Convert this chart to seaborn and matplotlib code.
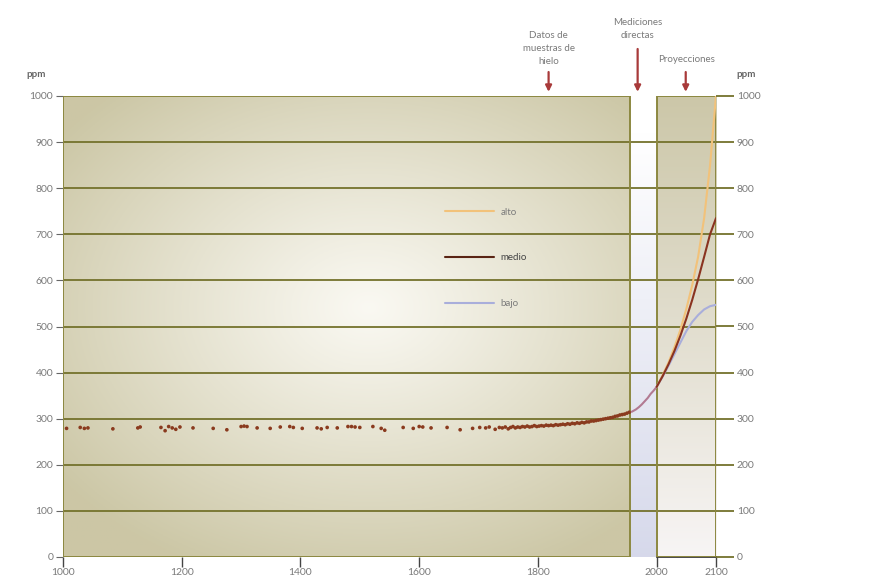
import numpy as np
import matplotlib.pyplot as plt
import seaborn as sns
from matplotlib.lines import Line2D
from matplotlib.patches import Rectangle

# datos de muestras de hielo (ppm CO2)
ice_years = [1006, 1029, 1036, 1042, 1084, 1126, 1130, 1165, 1172, 1178, 1184, 1190, 1197,
             1219, 1253, 1276, 1300, 1305, 1310, 1327, 1349, 1366, 1382, 1388, 1403, 1428,
             1435, 1445, 1462, 1480, 1486, 1492, 1500, 1522, 1536, 1542, 1573, 1590, 1600,
             1606, 1620, 1647, 1669, 1690, 1702, 1712, 1718, 1728, 1735,
             1740, 1745, 1750, 1754, 1758, 1762, 1766, 1770, 1774, 1778, 1782, 1786, 1790,
             1794, 1798, 1802, 1806, 1810, 1814, 1818, 1822, 1826, 1830, 1834, 1838, 1842,
             1846, 1850, 1854, 1858, 1862, 1866, 1870, 1874, 1878, 1882, 1886, 1890, 1894,
             1898, 1902, 1906, 1910, 1914, 1918, 1922, 1926, 1930, 1934, 1938, 1942, 1946,
             1950, 1954]
ice_ppm = [279, 281, 279, 280, 278, 280, 282, 281, 274, 283, 280, 277, 282,
           280, 279, 276, 283, 284, 283, 280, 279, 282, 283, 281, 279, 280,
           278, 281, 280, 283, 283, 282, 281, 283, 279, 275, 281, 279, 283,
           282, 280, 281, 276, 279, 281, 280, 282, 277, 281,
           280, 282, 278, 281, 283, 280, 282, 281, 283, 282, 284, 282, 283,
           285, 283, 284, 285, 284, 286, 285, 286, 285, 287, 286, 287, 288,
           287, 289, 288, 290, 289, 291, 290, 292, 291, 293, 293, 295, 295,
           296, 297, 298, 299, 300, 301, 302, 303, 305, 306, 308, 309, 310,
           312, 314]

# mediciones directas
meas_years = [1958, 1965, 1970, 1975, 1980, 1985, 1990, 1995, 2000]
meas_ppm = [315, 320, 325, 331, 338, 345, 354, 361, 369]

# proyecciones
proj_years = [2000, 2010, 2020, 2030, 2040, 2050, 2060, 2070, 2080, 2090, 2100]
alto = [369, 394, 422, 455, 493, 538, 590, 652, 735, 850, 1000]
medio = [369, 392, 418, 447, 480, 517, 558, 603, 651, 700, 735]
bajo = [369, 391, 415, 440, 465, 490, 510, 525, 537, 544, 547]

y_ticks = [0, 100, 200, 300, 400, 500, 600, 700, 800, 900, 1000]
x_ticks = [1000, 1200, 1400, 1600, 1800, 2000, 2100]

sns.set_theme(style='white')
plt.rcParams['font.family'] = ['Lato', 'DejaVu Sans']

txt = '#7a7a7a'
olive = '#74722c'
red = '#a83a3a'

fig = plt.figure(figsize=(8.77, 5.81), dpi=100)
ax = fig.add_axes([63 / 877, 24 / 581, 653 / 877, 461 / 581])
ax.set_xlim(1000, 2100)
ax.set_ylim(0, 1000)

# fondos degradados
edge = np.array([0.80, 0.78, 0.65])
centre = np.array([0.98, 0.975, 0.95])
yy, xx = np.mgrid[0:1:200j, 0:1:300j]
r = np.sqrt(((xx - 0.54) / 0.68) ** 2 + ((yy - 0.46) / 0.62) ** 2)
t = np.clip(r, 0, 1)[..., None] ** 1.1
ax.imshow(centre * (1 - t) + edge * t, extent=[1000, 1955, 0, 1000], aspect='auto', zorder=0)

v = np.linspace(0, 1, 200)[:, None, None]
top_r = np.array([0.80, 0.78, 0.66])
bot_r = np.array([0.97, 0.96, 0.96])
ax.imshow(np.repeat(top_r * (1 - v) + bot_r * v, 2, axis=1), extent=[2000, 2100, 0, 1000],
          aspect='auto', zorder=0)

top_s = np.array([1.0, 1.0, 1.0])
bot_s = np.array([0.84, 0.85, 0.92])
ax.imshow(np.repeat(top_s * (1 - v) + bot_s * v, 2, axis=1), extent=[1955, 2000, 0, 920],
          aspect='auto', zorder=0)

ax.add_patch(Rectangle((1000, 0), 955, 1000, fill=False, edgecolor='#8c8840', lw=1.4, zorder=3))
ax.add_patch(Rectangle((2000, 0), 100, 1000, fill=False, edgecolor='#8c8840', lw=1.4, zorder=3))

for y in y_ticks[1:-1]:
    ax.axhline(y, color=olive, lw=1.3, zorder=1)

# datos
sns.scatterplot(x=ice_years, y=ice_ppm, ax=ax, color='#8a3a1e', s=7, edgecolor='none', zorder=4)
sns.lineplot(x=meas_years, y=meas_ppm, ax=ax, color='#b27a92', lw=1.5, zorder=4)
sns.lineplot(x=proj_years, y=alto, ax=ax, color='#f2c27a', lw=1.5, zorder=4)
sns.lineplot(x=proj_years, y=bajo, ax=ax, color='#a9aedb', lw=1.5, zorder=4)
sns.lineplot(x=proj_years, y=medio, ax=ax, color='#8a3320', lw=1.5, zorder=5)

# ejes
for s in ['top', 'right', 'left']:
    ax.spines[s].set_visible(False)
ax.spines['bottom'].set_bounds(2000, 2100)
ax.spines['bottom'].set_color('#333333')
ax.set_xticks(x_ticks)
ax.set_yticks(y_ticks)
ax.tick_params(axis='x', bottom=True, length=7, width=1, color='#444444',
               labelsize=7.5, labelcolor=txt, pad=1)
ax.tick_params(axis='y', left=True, length=5, width=0.8, color='#666666',
               labelsize=7.5, labelcolor=txt, pad=2)

tw = ax.twinx()
tw.set_ylim(0, 1000)
tw.set_yticks(y_ticks)
for s in tw.spines.values():
    s.set_visible(False)
tw.tick_params(axis='y', right=True, length=13, width=1.3, color=olive,
               labelsize=7.5, labelcolor=txt, pad=2)
tw.grid(False)

fig.text(36 / 877, 1 - 74 / 581, 'ppm', ha='center', va='center', fontsize=7, weight='bold', color='#666666')
fig.text(746 / 877, 1 - 74 / 581, 'ppm', ha='center', va='center', fontsize=7, weight='bold', color='#666666')

# flechas y rótulos
arrow = dict(arrowstyle='-|>', color=red, lw=1.6, mutation_scale=9)
ax.annotate('', xy=(1818, 1003), xytext=(1818, 1058), arrowprops=arrow, annotation_clip=False)
ax.annotate('', xy=(1968, 1003), xytext=(1968, 1108), arrowprops=arrow, annotation_clip=False)
ax.annotate('', xy=(2049, 1003), xytext=(2049, 1058), arrowprops=arrow, annotation_clip=False)
ax.text(1818, 1066, 'Datos de\nmuestras de\nhielo', ha='center', va='bottom', fontsize=7,
        color=txt, linespacing=1.55, clip_on=False)
ax.text(1968, 1122, 'Mediciones\ndirectas', ha='center', va='bottom', fontsize=7,
        color=txt, linespacing=1.55, clip_on=False)
ax.text(2051, 1070, 'Proyecciones', ha='center', va='bottom', fontsize=7,
        color=txt, clip_on=False)

handles = [Line2D([], [], color='#f2c27a', lw=1.5),
           Line2D([], [], color='#5a2414', lw=1.5),
           Line2D([], [], color='#a9aedb', lw=1.5)]
leg = ax.legend(handles, ['alto', 'medio', 'bajo'], loc='upper left', bbox_to_anchor=(0.572, 0.777),
                frameon=False, handlelength=5.0, handletextpad=0.7, labelspacing=3.8, fontsize=7)
for tx, c in zip(leg.get_texts(), [txt, '#444444', txt]):
    tx.set_color(c)

fig.savefig('out.png', dpi=100)
